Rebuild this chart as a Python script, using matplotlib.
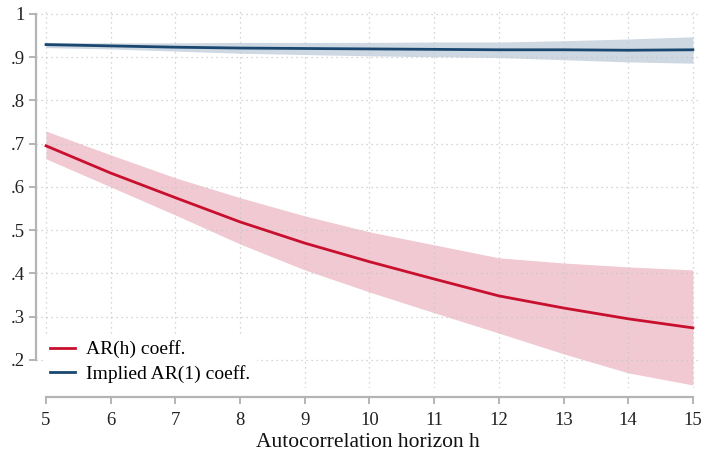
import matplotlib
matplotlib.use("Agg")
import matplotlib.pyplot as plt
import numpy as np

h = [5, 6, 7, 8, 9, 10, 11, 12, 13, 14, 15]
arh = [0.695, 0.632, 0.575, 0.519, 0.470, 0.427, 0.387, 0.348, 0.320, 0.295, 0.274]
arh_hi = [0.729, 0.674, 0.621, 0.575, 0.533, 0.496, 0.466, 0.436, 0.424, 0.415, 0.408]
arh_lo = [0.665, 0.600, 0.535, 0.468, 0.408, 0.357, 0.309, 0.262, 0.214, 0.170, 0.142]
ar1 = [0.929, 0.926, 0.923, 0.921, 0.920, 0.919, 0.918, 0.917, 0.917, 0.916, 0.917]
ar1_hi = [0.934, 0.933, 0.933, 0.934, 0.934, 0.934, 0.935, 0.935, 0.938, 0.942, 0.947]
ar1_lo = [0.922, 0.919, 0.914, 0.909, 0.906, 0.903, 0.901, 0.899, 0.894, 0.889, 0.886]
yticks = [0.2, 0.3, 0.4, 0.5, 0.6, 0.7, 0.8, 0.9, 1.0]
ytick_labels = [".2", ".3", ".4", ".5", ".6", ".7", ".8", ".9", "1"]

plt.rcParams['font.family'] = ['Liberation Serif', 'DejaVu Serif']

W, H = 701, 454
fig = plt.figure(figsize=(W/100, H/100), dpi=100)
ax = fig.add_axes([36/W, 1-388/H, (700-36)/W, (388-10)/H])

red = "#c8102e"
red_band = "#f0c9d2"
blue = "#1a476f"
blue_band = "#ced8e2"

ax.fill_between(h, arh_lo, arh_hi, color=red_band, lw=0, zorder=1)
ax.fill_between(h, ar1_lo, ar1_hi, color=blue_band, lw=0, zorder=1)
ax.plot(h, arh, color=red, lw=2, label="AR(h) coeff.", zorder=3)
ax.plot(h, ar1, color=blue, lw=2, label="Implied AR(1) coeff.", zorder=3)

ax.set_xlim(4.845, 15.11)
ax.set_ylim(0.135, 1.009)
ax.set_xticks(h)
ax.set_yticks(yticks)
ax.set_yticklabels(ytick_labels)

ax.grid(True, color="#c8c8c8", linestyle=(0, (1, 3)), lw=0.9, zorder=0)
for s in ["top", "right"]:
    ax.spines[s].set_visible(False)
ax.spines["left"].set_bounds(0.2, 1.0)
ax.spines["bottom"].set_bounds(5, 15)
ax.spines["bottom"].set_position(("outward", 6.5))
for s in ["left", "bottom"]:
    ax.spines[s].set_color("#b4b4b4")
    ax.spines[s].set_linewidth(1.6)
ax.tick_params(axis="both", colors="#b4b4b4", width=1.4, length=5, labelcolor="#222222", labelsize=13.5)
ax.tick_params(axis="y", pad=3)
ax.tick_params(axis="x", pad=6)

ax.set_xlabel("Autocorrelation horizon h", fontsize=15.5, color="#111111", labelpad=3)

leg = ax.legend(loc="lower left", bbox_to_anchor=(0.003, -0.018), frameon=True, fontsize=14,
                handlelength=1.3, handletextpad=0.55, borderaxespad=0.3, labelspacing=0.35,
                borderpad=0.3)
leg.get_frame().set_facecolor("white")
leg.get_frame().set_edgecolor("white")
leg.get_frame().set_alpha(1)
leg.set_zorder(5)

fig.savefig("out.png", dpi=100)
